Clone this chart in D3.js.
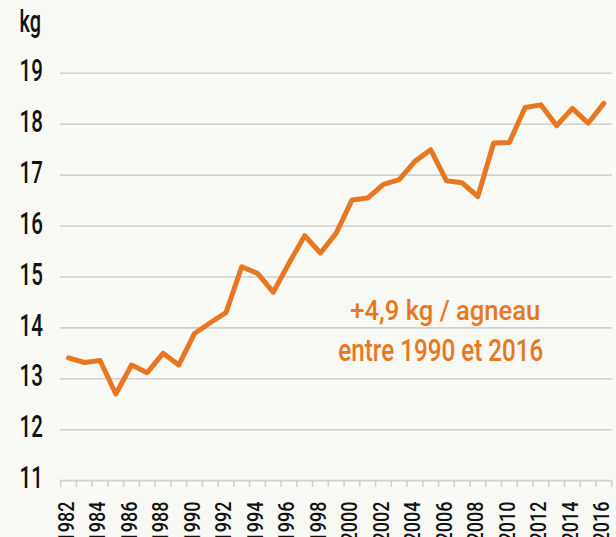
<!DOCTYPE html>
<html>
<head>
<meta charset="utf-8">
<script src="https://cdn.jsdelivr.net/npm/d3@7"></script>
<style>
  html, body { margin: 0; padding: 0; background: #f9f9f5; }
  svg { display: block; }
  text { font-family: Roboto, "Noto Sans", sans-serif; font-weight: 500; }
</style>
</head>
<body>
<div id="chart"></div>
<script>
const years = d3.range(1982, 2017);
const values = [13.41, 13.32, 13.36, 12.70, 13.27, 13.12, 13.50, 13.27, 13.89, 14.10,
                14.30, 15.20, 15.07, 14.70, 15.27, 15.81, 15.47, 15.86, 16.51, 16.55,
                16.82, 16.91, 17.27, 17.50, 16.89, 16.85, 16.58, 17.63, 17.64, 18.33,
                18.38, 17.97, 18.31, 18.02, 18.41];
const yTicks = [11, 12, 13, 14, 15, 16, 17, 18, 19];
const xLabelYears = years.filter(y => (y - 1982) % 2 === 0);
const unitLabel = "kg";
const noteLines = ["+4,9 kg / agneau", "entre 1990 et 2016"];

const W = 616, H = 537;
const orange = "#e87722";
const grid = "#d0d0cc";

const svg = d3.select("#chart").append("svg")
  .attr("width", W).attr("height", H);

svg.append("rect").attr("width", W).attr("height", H).attr("fill", "#f9f9f5");

const x = d3.scaleBand().domain(years).range([60.7, 611.7]).padding(0);
const y = d3.scaleLinear().domain([11, 19]).range([480.6, 73.3]);

// gridlines
svg.append("g").selectAll("line").data(yTicks).join("line")
  .attr("x1", 60).attr("x2", 611.7)
  .attr("y1", d => y(d)).attr("y2", d => y(d))
  .attr("stroke", grid).attr("stroke-width", 1.6);

// x ticks at band edges
const edges = years.map(v => x(v)).concat([x(years[years.length - 1]) + x.bandwidth()]);
svg.append("g").selectAll("line").data(edges).join("line")
  .attr("x1", d => d).attr("x2", d => d)
  .attr("y1", y(11)).attr("y2", y(11) + 6.5)
  .attr("stroke", grid).attr("stroke-width", 1.6);

// y labels
svg.append("g").selectAll("text").data(yTicks).join("text")
  .attr("transform", d => `translate(19.5,${y(d) + 7.7}) scale(0.64,1)`)
  .attr("font-size", 32)
  .attr("fill", "#111")
  .text(d => d);

svg.append("text")
  .attr("transform", `translate(19.5,31.5) scale(0.64,1)`)
  .attr("font-size", 31)
  .attr("fill", "#111")
  .text(unitLabel);

// x labels
svg.append("g").selectAll("text").data(xLabelYears).join("text")
  .attr("transform", d => `translate(${x(d) + x.bandwidth() / 2 + 5.3},501.5) rotate(-90) scale(0.8,1)`)
  .attr("text-anchor", "end")
  .attr("font-size", 22.5)
  .attr("fill", "#111")
  .text(d => d);

// line
const line = d3.line()
  .x((d, i) => x(years[i]) + x.bandwidth() / 2)
  .y(d => y(d));
svg.append("path").datum(values)
  .attr("d", line)
  .attr("fill", "none")
  .attr("stroke", orange)
  .attr("stroke-width", 5)
  .attr("stroke-linejoin", "round")
  .attr("stroke-linecap", "round");

// annotation
svg.append("text")
  .attr("x", 445.3).attr("y", 320)
  .attr("text-anchor", "middle")
  .attr("font-size", 28)
  .attr("fill", orange)
  .attr("textLength", 190).attr("lengthAdjust", "spacingAndGlyphs")
  .text(noteLines[0]);
svg.append("text")
  .attr("x", 440.8).attr("y", 361)
  .attr("text-anchor", "middle")
  .attr("font-size", 31.5)
  .attr("fill", orange)
  .attr("textLength", 205).attr("lengthAdjust", "spacingAndGlyphs")
  .text(noteLines[1]);
</script>
</body>
</html>
